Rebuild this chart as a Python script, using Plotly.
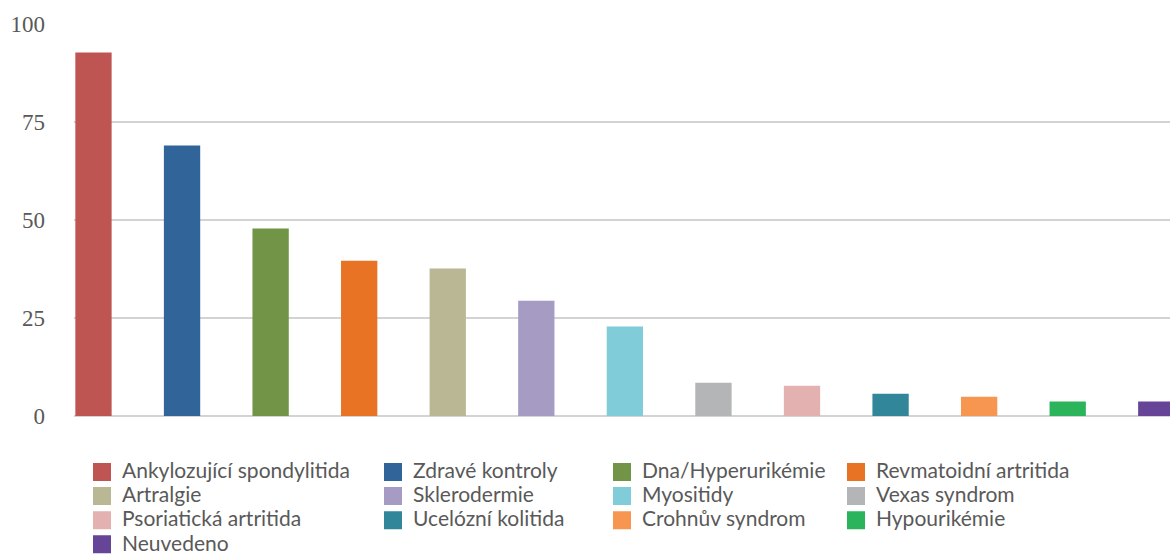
import plotly.graph_objects as go

categories = [
    "Ankylozující spondylitida", "Zdravé kontroly", "Dna/Hyperurikémie",
    "Revmatoidní artritida", "Artralgie", "Sklerodermie", "Myositidy",
    "Vexas syndrom", "Psoriatická artritida", "Ucelózní kolitida",
    "Crohnův syndrom", "Hypourikémie", "Neuvedeno",
]
values = [92.7, 69.0, 47.8, 39.6, 37.6, 29.4, 22.8, 8.5, 7.7, 5.7, 4.9, 3.7, 3.7]
colors = [
    "#BE5552", "#31659A", "#719447", "#E87325", "#B9B794", "#A69BC3", "#80CCD9",
    "#B3B5B6", "#E3B1B0", "#318699", "#F79650", "#2CB45D", "#664599",
]
y_ticks = [0, 25, 50, 75, 100]

# legend columns (category indices per column)
legend_columns = [[0, 4, 8, 12], [1, 5, 9], [2, 6, 10], [3, 7, 11]]
legend_x_px = [82, 373, 602, 836]

W, H = 1170, 554
L, R, T, B = 74, 0, 24, 138
pw, ph = W - L - R, H - T - B

fig = go.Figure()
for i, (cat, val, col) in enumerate(zip(categories, values, colors)):
    fig.add_trace(go.Bar(
        x=[i], y=[val], name=cat, marker=dict(color=col, line=dict(width=0)),
        width=0.41, showlegend=False, hoverinfo="name+y",
    ))

# legend rows are spaced by the legend font size; the label itself is drawn larger
legend_names = ["legend", "legend2", "legend3", "legend4"]
for c, idxs in enumerate(legend_columns):
    for i in idxs:
        fig.add_trace(go.Scatter(
            x=[None], y=[None], mode="markers",
            name=f'<span style="font-size:21px">{categories[i]}</span>',
            marker=dict(symbol="square", size=16, color=colors[i],
                        line=dict(color=colors[i], width=2)),
            legend=legend_names[c], showlegend=True, hoverinfo="skip",
        ))

legend_font = dict(family="Lato, 'Open Sans', sans-serif", size=16.2, color="#595959")
for c, name in enumerate(legend_names):
    fig.update_layout(**{name: dict(
        x=(legend_x_px[c] - L) / pw, xanchor="left",
        y=(H - B - 455) / ph, yanchor="top",
        orientation="v", font=legend_font, bgcolor="rgba(0,0,0,0)",
        borderwidth=0, tracegroupgap=0, itemclick=False, itemdoubleclick=False,
    )})

fig.update_layout(
    width=W, height=H,
    margin=dict(l=L, r=R, t=T, b=B, pad=0, autoexpand=False),
    paper_bgcolor="white", plot_bgcolor="white",
    bargap=0.59,
    xaxis=dict(
        range=[-0.22, 12.155], showticklabels=False, showgrid=False,
        zeroline=False, showline=False, ticks="", fixedrange=True,
    ),
    yaxis=dict(
        range=[0, 100], tickvals=y_ticks, ticktext=[str(v) for v in y_ticks],
        showgrid=True, gridcolor="#D2D3D3", gridwidth=2,
        zeroline=True, zerolinecolor="#D2D3D3", zerolinewidth=2,
        showline=False, ticks="", ticklabelstandoff=28,
        tickfont=dict(family="'Liberation Serif', 'Times New Roman', serif",
                      size=23, color="#595959"),
        fixedrange=True,
    ),
)

fig.write_html("out.html")
